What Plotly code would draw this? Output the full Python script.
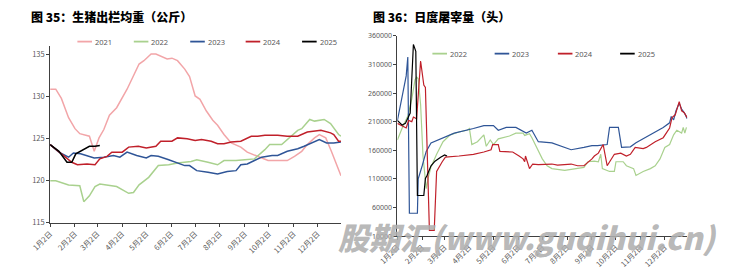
import plotly.graph_objects as go

BASE = "2021-"

# ---------------- Left chart: 生猪出栏均重（公斤） ----------------
w2021_d = ["01-02","01-09","01-16","01-25","02-02","02-08","02-20","02-26","03-04","03-10","03-17","03-26",
           "04-08","04-23","04-29","05-08","05-14","05-22","05-28","06-03","06-10","06-19","06-25","07-02",
           "07-08","07-16","07-24","07-30","08-07","08-16","08-28","09-05","09-18","10-01","10-13","10-25",
           "11-03","11-12","11-19","11-28","12-04","12-12","12-19","12-28","12-31"]
w2021_v = [130.9,130.9,129.8,127.5,126.2,125.6,125.3,123.5,125.1,126.1,127.8,128.7,
           130.9,133.9,134.3,135.1,135.1,134.8,134.5,134.6,134.3,133.3,132.4,130.1,
           129.7,128.3,127.2,126.6,125.5,124.5,124.0,123.4,122.9,122.4,122.4,122.4,
           122.9,123.5,124.3,125.1,125.5,125.1,123.5,121.2,120.6]

w2022_d = ["01-02","01-09","01-25","02-05","02-08","02-13","02-20","02-27","03-05","03-26","04-10","04-16",
           "04-23","05-05","05-17","05-30","06-10","06-27","07-04","07-18","07-30","08-07","08-22","09-02",
           "09-14","09-27","10-03","10-18","10-28","11-07","11-12","11-22","11-28","12-10","12-18","12-25",
           "12-28","12-31"]
w2022_v = [120.0,120.0,119.5,119.4,119.4,117.5,118.2,119.3,119.6,119.3,118.5,118.6,
           119.5,120.4,121.8,121.9,122.1,122.3,122.5,122.2,121.9,122.4,122.4,122.5,
           122.6,123.7,124.3,124.3,125.2,126.0,126.2,127.3,127.1,127.3,126.8,125.8,
           125.5,125.3]

w2023_d = ["01-02","01-13","01-25","01-31","02-09","02-26","03-10","03-22","03-30","04-08","04-20","05-02",
           "05-08","05-17","05-30","06-10","06-19","06-25","07-04","07-18","07-30","08-11","08-22","08-28",
           "09-05","09-14","09-23","10-06","10-13","10-25","11-07","11-15","11-28","12-04","12-13","12-22",
           "12-31"]
w2023_v = [124.3,123.4,122.8,123.3,123.2,122.7,122.8,123.0,122.8,123.4,123.0,122.7,
           123.0,122.9,122.5,122.1,121.8,121.8,121.2,121.0,120.8,121.1,121.2,121.9,
           122.0,122.4,122.8,123.0,123.0,123.5,123.8,124.1,124.7,124.9,124.5,124.5,
           124.6]

w2024_d = ["01-02","01-16","01-29","02-05","02-17","02-27","03-05","03-14","03-20","04-02","04-10","04-22",
           "05-02","05-14","05-20","06-03","06-10","06-22","07-02","07-10","07-22","07-30","08-07","08-16",
           "08-28","09-10","09-18","09-27","10-13","10-25","11-07","11-19","11-28","12-06","12-18","12-22",
           "12-28","12-31"]
w2024_v = [124.3,123.2,122.2,121.9,122.0,121.9,122.6,122.9,123.4,123.4,124.0,124.1,
           123.9,124.1,124.7,124.7,125.1,125.0,124.8,124.9,124.7,124.4,124.4,124.6,
           124.7,125.3,125.3,125.4,125.4,125.3,125.3,125.8,125.9,126.0,125.7,125.5,
           124.7,124.7]

w2025_d = ["01-02","01-13","01-23","01-29","02-03","02-11","02-20","02-27","03-05"]
w2025_v = [124.3,123.5,122.2,122.2,123.2,123.6,124.1,124.1,124.2]

# ---------------- Right chart: 日度屠宰量（头） ----------------
s2022_d = ["01-02","01-08","01-15","01-18","01-20","01-24","01-26","01-28","01-31","02-03","02-07","02-10",
           "02-13","02-20","02-28","03-09","03-20","03-30","04-02","04-05","04-12","04-20","04-23","04-28",
           "05-02","05-08","05-15","05-22","05-30","06-08","06-10","06-16","06-19","06-26","07-02","07-08",
           "07-14","07-30","08-11","08-23","08-28","09-05","09-10","09-13","09-15","09-24","09-30","10-02",
           "10-11","10-15","10-24","10-27","11-05","11-14","11-20","11-26","12-02","12-08","12-13","12-17",
           "12-23","12-25","12-27","12-29"]
s2022_v = [178000,199000,220000,237000,250000,283000,288000,285000,240000,150000,93000,115000,
           131000,153000,175000,187000,192000,195000,198000,170000,175000,187000,167000,178000,
           170000,180000,182000,185000,190000,190000,186000,189000,182000,161000,145000,133000,
           128000,125000,127000,130000,140000,141000,140000,153000,128000,123000,123000,140000,
           140000,133000,128000,116000,123000,128000,133000,145000,165000,170000,187000,195000,
           190000,200000,190000,200000]

s2023_d = ["01-02","01-05","01-10","01-13","01-15","01-17","01-27","01-28","02-02","02-07","02-13","02-22",
           "03-14","04-07","04-20","04-29","05-02","05-08","05-18","05-30","06-12","06-19","06-27","07-14",
           "08-07","08-23","09-02","09-09","09-21","09-24","10-05","10-09","10-20","10-27","11-09","11-20",
           "11-30","12-08","12-10","12-13","12-16","12-20","12-23","12-27","12-30"]
s2023_v = [212000,235000,267000,290000,323000,50000,50000,110000,133000,158000,173000,178000,
           190000,198000,203000,203000,203000,195000,200000,200000,190000,195000,175000,173000,
           161000,165000,168000,168000,170000,200000,200000,165000,166000,173000,183000,192000,
           200000,208000,219000,213000,229000,242000,232000,224000,215000]

s2024_d = ["01-02","01-13","01-16","01-20","01-22","01-26","01-31","02-04","02-06","02-11","02-17","02-20",
           "02-27","03-03","03-20","04-07","04-20","04-29","05-01","05-08","05-10","05-26","06-03","06-08",
           "06-10","06-11","06-16","06-20","06-27","07-14","07-21","08-07","08-15","08-23","09-02","09-05",
           "09-10","09-16","09-21","09-30","10-08","10-15","10-20","10-26","11-05","11-09","11-20","11-30",
           "12-08","12-11","12-15","12-20","12-23","12-26","12-30"]
s2024_v = [207000,199000,212000,210000,218000,215000,316000,274000,270000,20000,20000,123000,
           140000,148000,150000,153000,157000,161000,170000,170000,158000,157000,150000,145000,
           140000,150000,128000,136000,135000,136000,134000,136000,133000,133000,145000,150000,
           155000,170000,133000,153000,155000,150000,153000,165000,163000,165000,175000,182000,
           199000,217000,222000,245000,229000,226000,217000]

s2025_d = ["01-02","01-08","01-12","01-15","01-18","01-22","01-25","01-27","02-04","02-06","02-08","02-13",
           "02-18","02-25","03-02","03-05"]
s2025_v = [212000,204000,207000,215000,225000,345000,333000,81000,81000,111000,116000,133000,
           141000,148000,152000,150000]

tick_dates = ["01-02","02-02","03-02","04-02","05-02","06-02","07-02","08-02","09-02","10-02","11-02","12-02"]
tick_text = ["1月2日","2月2日","3月2日","4月2日","5月2日","6月2日","7月2日","8月2日","9月2日","10月2日","11月2日","12月2日"]

left_years = ["2021","2022","2023","2024","2025"]
right_years = ["2022","2023","2024","2025"]
colors = {"2021": "#F2A5A8", "2022": "#A9D18E", "2023": "#2F5597", "2024": "#C0202A", "2025": "#000000"}

W, H = 731, 271
def px(x): return x / W
def py(y): return (H - y) / H

fig = go.Figure()

left_data = {"2021": (w2021_d, w2021_v), "2022": (w2022_d, w2022_v), "2023": (w2023_d, w2023_v),
             "2024": (w2024_d, w2024_v), "2025": (w2025_d, w2025_v)}
right_data = {"2022": (s2022_d, s2022_v), "2023": (s2023_d, s2023_v),
              "2024": (s2024_d, s2024_v), "2025": (s2025_d, s2025_v)}

for yr in left_years:
    d, v = left_data[yr]
    fig.add_trace(go.Scatter(x=[BASE + s for s in d], y=v, mode="lines", name=yr,
                             line=dict(color=colors[yr], width=1.5), xaxis="x", yaxis="y",
                             showlegend=False))
for yr in right_years:
    d, v = right_data[yr]
    fig.add_trace(go.Scatter(x=[BASE + s for s in d], y=v, mode="lines", name=yr,
                             line=dict(color=colors[yr], width=1.2), xaxis="x2", yaxis="y2",
                             showlegend=False))

axis_color = "#404040"
tick_font = dict(family="Noto Sans CJK SC, Noto Sans, sans-serif", size=7.5, color="#595959")

fig.update_layout(
    width=W, height=H, margin=dict(l=0, r=0, t=0, b=0),
    paper_bgcolor="white", plot_bgcolor="white",
    xaxis=dict(domain=[px(31), px(330)], type="date", range=[BASE + "01-02", BASE + "12-31"],
               tickvals=[BASE + s for s in tick_dates], ticktext=tick_text, tickangle=-45,
               ticks="outside", ticklen=3, tickcolor=axis_color, showline=True, linecolor=axis_color,
               linewidth=1, showgrid=False, zeroline=False, tickfont=tick_font, anchor="y"),
    yaxis=dict(domain=[py(226), py(43)], range=[115, 136], tickvals=[115, 120, 125, 130, 135],
               ticks="outside", ticklen=3, tickcolor=axis_color, showline=True, linecolor=axis_color,
               linewidth=1, showgrid=False, zeroline=False, tickfont=tick_font, anchor="x"),
    xaxis2=dict(domain=[px(388), px(686)], type="date", range=[BASE + "01-02", BASE + "12-30"],
                tickvals=[BASE + s for s in tick_dates], ticktext=tick_text, tickangle=-45,
                ticks="outside", ticklen=3, tickcolor=axis_color, showline=True, linecolor=axis_color,
                linewidth=1, showgrid=False, zeroline=False, tickfont=tick_font, anchor="y2"),
    yaxis2=dict(domain=[py(240), py(32)], range=[10000, 360000], dtick=50000, tick0=10000,
                tickformat="d", ticks="outside", ticklen=3, tickcolor=axis_color, showline=True,
                linecolor=axis_color, linewidth=1, showgrid=False, zeroline=False,
                tickfont=dict(family="Noto Sans, sans-serif", size=7, color="#595959"), anchor="x2"),
)

shapes = []
annotations = []

# Titles
title_font = dict(family="Noto Sans CJK SC, sans-serif", size=12, color="#000000", weight=900)
annotations.append(dict(text="图 35：生猪出栏均重（公斤）", x=px(9), y=py(12), xref="paper", yref="paper",
                        xanchor="left", yanchor="middle", showarrow=False, font=title_font))
annotations.append(dict(text="图 36：日度屠宰量（头）", x=px(361), y=py(12), xref="paper", yref="paper",
                        xanchor="left", yanchor="middle", showarrow=False, font=title_font))

# Manual legends
leg_font = dict(family="Noto Sans, sans-serif", size=7.5, color="#595959")
left_leg_x = [59, 117, 175, 232, 290]
for yr, x0 in zip(left_years, left_leg_x):
    shapes.append(dict(type="line", xref="paper", yref="paper", x0=px(x0), x1=px(x0 + 15),
                       y0=py(38), y1=py(38), line=dict(color=colors[yr], width=1.8)))
    annotations.append(dict(text=yr, x=px(x0 + 16), y=py(38), xref="paper", yref="paper",
                            xanchor="left", yanchor="middle", showarrow=False, font=leg_font))
right_leg_x = [424, 488, 553, 617]
for yr, x0 in zip(right_years, right_leg_x):
    shapes.append(dict(type="line", xref="paper", yref="paper", x0=px(x0), x1=px(x0 + 15),
                       y0=py(50.5), y1=py(50.5), line=dict(color=colors[yr], width=1.8)))
    annotations.append(dict(text=yr, x=px(x0 + 16), y=py(50.5), xref="paper", yref="paper",
                            xanchor="left", yanchor="middle", showarrow=False, font=leg_font))

# Watermark
annotations.append(dict(text="股期汇(www.guqihui.cn)", x=px(521), y=py(240), xref="paper",
                        yref="paper", xanchor="center", yanchor="middle", showarrow=False,
                        font=dict(family="Noto Sans CJK SC, sans-serif", size=31, weight=900,
                                  style="italic", color="rgba(175,175,175,0.9)")))

fig.update_layout(shapes=shapes, annotations=annotations)
fig.write_html("out.html")
